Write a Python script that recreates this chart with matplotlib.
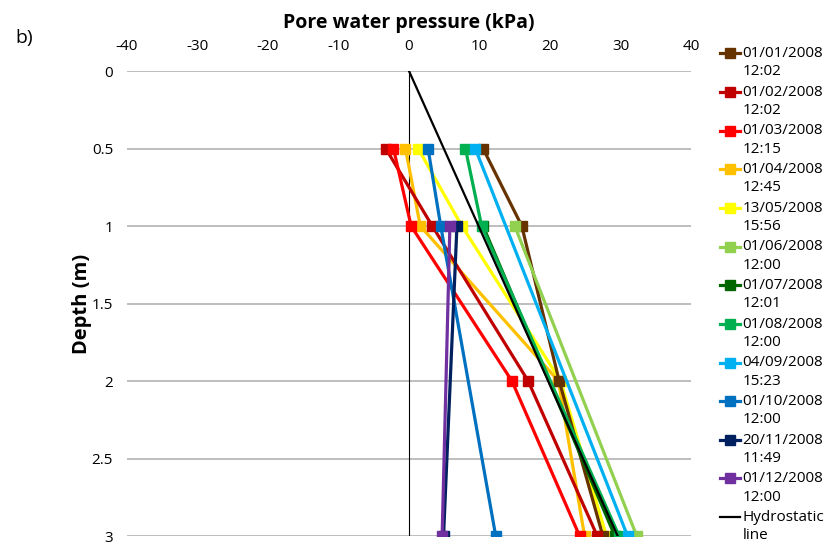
import numpy as np
import matplotlib.pyplot as plt
from matplotlib.legend_handler import HandlerLine2D

plt.rcParams['font.family'] = ['Open Sans', 'DejaVu Sans']
plt.rcParams['axes.unicode_minus'] = False

depths = [0.5, 1.0, 2.0, 3.0]

labels = ["01/01/2008\n12:02", "01/02/2008\n12:02", "01/03/2008\n12:15",
          "01/04/2008\n12:45", "13/05/2008\n15:56", "01/06/2008\n12:00",
          "01/07/2008\n12:01", "01/08/2008\n12:00", "04/09/2008\n15:23",
          "01/10/2008\n12:00", "20/11/2008\n11:49", "01/12/2008\n12:00"]
colors = ["#663300", "#C00000", "#FF0000", "#FFC000", "#FFFF00", "#92D050",
          "#006600", "#00B050", "#00B0F0", "#0070C0", "#002060", "#7030A0"]

# pore pressure (kPa) at 0.5, 1, 2, 3 m; nan = no reading
nan = np.nan
p_0101 = [10.5, 16.0, 21.3, 27.5]
p_0102 = [-3.3, 3.3, 16.9, 26.7]
p_0103 = [-2.2, 0.3, 14.6, 24.2]
p_0104 = [-0.5, 1.6, 21.2, 24.9]
p_1305 = [1.3, 7.5, 21.5, 28.0]
p_0106 = [nan, 15.0, nan, 32.3]
p_0107 = [nan, 10.5, nan, 29.2]
p_0108 = [8.0, 10.3, nan, 29.8]
p_0409 = [9.4, nan, nan, 31.0]
p_0110 = [2.7, 4.5, nan, 12.3]
p_2011 = [nan, 6.8, nan, 4.9]
p_0112 = [nan, 5.8, nan, 4.7]
series = [p_0101, p_0102, p_0103, p_0104, p_1305, p_0106,
          p_0107, p_0108, p_0409, p_0110, p_2011, p_0112]

hydro_depth = [0.0, 3.0]
hydro_p = [0.0, 29.6]

# drawing order (orange and yellow sit under the brown marker at 2 m)
draw_order = [3, 4, 0, 1, 2, 5, 6, 7, 8, 9, 10, 11]


class TopLineHandler(HandlerLine2D):
    # put the legend symbol next to the first line of a two-line label
    def create_artists(self, legend, orig_handle, xdescent, ydescent,
                       width, height, fontsize, trans):
        return super().create_artists(legend, orig_handle, xdescent,
                                      ydescent - 1.25 * fontsize, width,
                                      height, fontsize, trans)


fig = plt.figure(figsize=(8.33, 5.45), dpi=100)
ax = fig.add_axes([127/833, 1 - 536/545, (691-127)/833, (536-71)/545])

handles = [None] * len(series)
for z, i in enumerate(draw_order):
    v = np.array(series[i], dtype=float)
    d = np.array(depths)
    ok = ~np.isnan(v)
    handles[i], = ax.plot(v[ok], d[ok], color=colors[i], lw=2.3, marker='s',
                          ms=7, mec=colors[i], label=labels[i], zorder=2 + z * 0.01)

hl, = ax.plot(hydro_p, hydro_depth, color='black', lw=1.6, label="Hydrostatic\nline",
              zorder=3)
handles.append(hl)

ax.set_xlim(-40, 40)
ax.set_ylim(3, 0)
ax.set_xticks(range(-40, 41, 10))
ax.set_yticks(np.arange(0, 3.01, 0.5))
ax.set_yticklabels(["0", "0.5", "1", "1.5", "2", "2.5", "3"])
ax.xaxis.tick_top()
ax.xaxis.set_label_position('top')
ax.tick_params(axis='both', length=0, labelsize=11)
ax.tick_params(axis='x', pad=12)
ax.tick_params(axis='y', pad=10)
ax.grid(axis='y', color='#b3b3b3', lw=1.2)
ax.set_axisbelow(True)
for s in ax.spines.values():
    s.set_visible(False)
ax.axvline(0, color='black', lw=0.8, zorder=1.5)

ax.set_xlabel("Pore water pressure (kPa)", fontsize=14, fontweight='bold', labelpad=8)
ax.set_ylabel("Depth (m)", fontsize=14.5, fontweight='bold', labelpad=0)

fig.text(15/833, 1 - 38/545, "b)", fontsize=14, va='center')

leg = ax.legend(handles=handles, loc='upper left', bbox_to_anchor=(714/833, 1 - 40/545),
                bbox_transform=fig.transFigure, frameon=False, fontsize=11,
                handlelength=1.3, handletextpad=0.15, labelspacing=0.35,
                borderaxespad=0, handler_map={plt.Line2D: TopLineHandler()})
for t in leg.get_texts():
    t.set_linespacing(1.3)

fig.savefig("out.png", dpi=100)
